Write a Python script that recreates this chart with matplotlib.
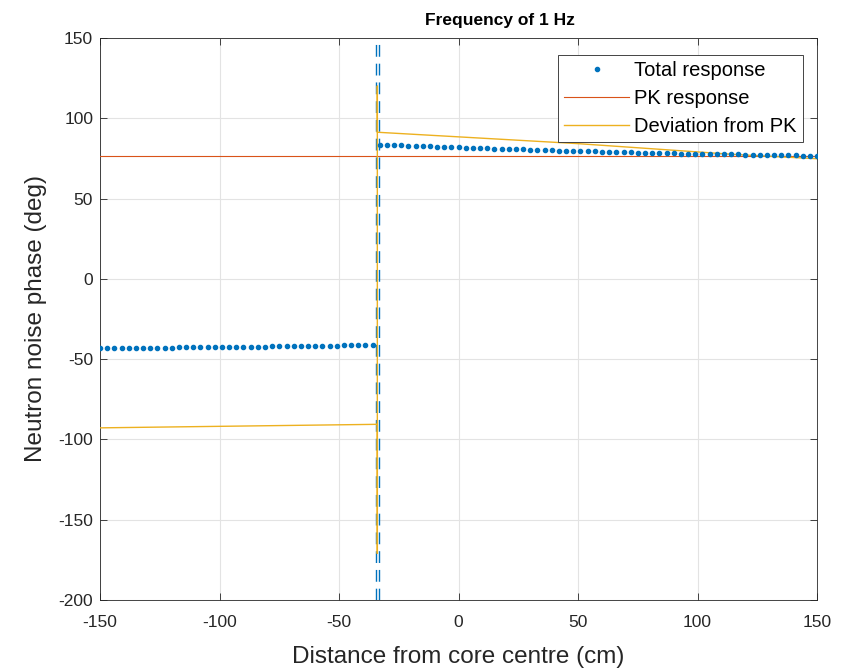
import numpy as np
import matplotlib
matplotlib.use("Agg")
import matplotlib.pyplot as plt

plt.rcParams['font.family'] = ['Liberation Sans', 'DejaVu Sans']
plt.rcParams['axes.unicode_minus'] = False

# ---- data ----
x_left = np.arange(-150, -35, 3)          # grid positions (cm)
y_left = [-43.3, -43.25, -43.2, -43.15, -43.1, -43.05, -43.0, -42.95, -42.9, -42.85,
          -42.8, -42.75, -42.7, -42.65, -42.6, -42.55, -42.5, -42.45, -42.4, -42.35,
          -42.3, -42.25, -42.2, -42.15, -42.1, -42.05, -42.0, -41.95, -41.9, -41.85,
          -41.8, -41.75, -41.7, -41.6, -41.5, -41.4, -41.3, -41.2, -41.1]
x_right = np.arange(-33, 151, 3)
y_right = [83.6, 83.4, 83.25, 83.1, 82.95, 82.8, 82.65, 82.5, 82.35, 82.2,
           82.05, 81.9, 81.75, 81.6, 81.45, 81.3, 81.15, 81.0, 80.85, 80.7,
           80.57, 80.44, 80.31, 80.18, 80.05, 79.92, 79.8, 79.68, 79.56, 79.44,
           79.32, 79.2, 79.08, 78.97, 78.86, 78.75, 78.64, 78.53, 78.42, 78.31,
           78.2, 78.12, 78.05, 77.97, 77.9, 77.82, 77.74, 77.67, 77.59, 77.52,
           77.44, 77.36, 77.29, 77.21, 77.14, 77.06, 76.98, 76.91, 76.83, 76.76,
           76.68, 76.6]
pk_x = [-150, 150]
pk_y = [76.8, 76.8]
dev_x = [-150, -34, -34, -34, -34, 50, 115, 150]
dev_y = [-92.8, -90.6, -171, 120, 91.3, 84.2, 77.5, 74.8]
boundary_x = [-34.5, -33.5]

blue = '#0072BD'
red = '#D95319'
yellow = '#EDB120'
axcol = '#262626'

fig = plt.figure(figsize=(8.41, 6.70), dpi=100)
ax = fig.add_axes([0.119, 0.1045, 0.8526, 0.8388])

tot_x = np.concatenate([x_left, x_right])
tot_y = np.concatenate([y_left, y_right])
ax.plot(tot_x, tot_y, linestyle='none', marker='o', markersize=3.0,
        color=blue, label='Total response', zorder=4)
ax.plot(pk_x, pk_y, color=red, lw=0.8, label='PK response', zorder=3)
ax.plot(dev_x, dev_y, color=yellow, lw=1.0, label='Deviation from PK', zorder=3)
for bx in boundary_x:
    l, = ax.plot([bx, bx], [-200, 150], color=blue, lw=1.0, zorder=2)
    l.set_dashes([8.5, 5])

ax.set_xlim(-150, 150)
ax.set_ylim(-200, 150)
ax.set_xticks(np.arange(-150, 151, 50))
ax.set_yticks(np.arange(-200, 151, 50))
ax.grid(True, color='#e3e3e3', lw=0.8, zorder=0)
ax.set_axisbelow(True)
ax.tick_params(direction='in', top=True, right=True, labelsize=12.5,
               colors=axcol, length=5, width=0.6)
ax.tick_params(axis='x', pad=11)
ax.tick_params(axis='y', pad=5)
for s in ax.spines.values():
    s.set_color(axcol)
    s.set_linewidth(0.6)

ax.set_xlabel('Distance from core centre (cm)', fontsize=17.5, color=axcol, labelpad=11)
ax.set_ylabel('Neutron noise phase (deg)', fontsize=17.5, color=axcol, labelpad=8)
ax.set_title('Frequency of 1 Hz', fontsize=12.5, fontweight='bold', color='black',
             pad=9, x=0.558)

leg = ax.legend(loc='upper right', bbox_to_anchor=(0.98, 0.97), borderaxespad=0,
                fancybox=False, framealpha=1, edgecolor=axcol, fontsize=14.5,
                handlelength=3.2, handletextpad=0.25, labelspacing=0.44,
                borderpad=0.32)
leg.get_frame().set_linewidth(0.6)

fig.savefig('out.png', dpi=100)
